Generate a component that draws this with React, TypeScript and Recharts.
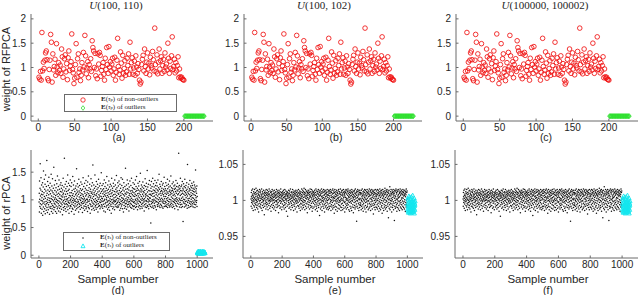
import { ScatterChart, Scatter, XAxis, YAxis } from 'recharts'

// E(tau_p) weights of RFPCA non-outliers, x100, samples 1..200 (same in a, b, c)
const RFPCA_NON_OUTLIERS = [
  80, 76, 92, 74, 172, 93, 111, 98, 115, 130, 134, 116, 77, 73, 96, 115, 168, 152, 70, 128,
  95, 102, 117, 84, 149, 101, 89, 110, 94, 105, 88, 138, 122, 80, 97, 118, 126, 91, 108, 75,
  120, 134, 94, 103, 112, 169, 96, 89, 67, 78, 106, 149, 80, 118, 128, 90, 97, 73, 84, 110,
  95, 131, 101, 166, 124, 87, 99, 112, 79, 106, 97, 118, 92, 155, 141, 134, 100, 129, 83, 97,
  77, 128, 107, 131, 125, 82, 94, 102, 110, 86, 74, 119, 96, 141, 106, 88, 143, 101, 112, 93,
  107, 119, 84, 97, 121, 74, 90, 115, 160, 102, 86, 95, 132, 109, 78, 125, 88, 98, 114, 84,
  91, 119, 104, 128, 86, 152, 97, 110, 120, 86, 99, 113, 84, 124, 101, 88, 108, 96, 74, 66,
  70, 106, 117, 125, 93, 138, 102, 88, 111, 130, 97, 109, 85, 121, 104, 99, 133, 116, 93, 181,
  106, 91, 126, 87, 111, 138, 97, 114, 122, 88, 104, 117, 92, 130, 101, 107, 95, 150, 119, 88,
  113, 98, 124, 163, 96, 102, 117, 89, 110, 93, 104, 122, 79, 97, 81, 78, 80, 76, 75, 74,
]
// E(tau_p) of outliers, samples 201..228
const RFPCA_OUTLIERS = [0, 0, 0, 0, 0, 0, 0, 0, 0, 0, 0, 0, 0, 0, 0, 0, 0, 0, 0, 0, 0, 0, 0, 0, 0, 0, 0, 0]

// rPCA weights in (d), x100, samples 1..1000
const RPCA_NON_OUTLIERS_D = [
  96, 112, 78, 134, 101, 88, 121, 165, 93, 107, 85, 118, 140, 99, 76, 110, 127, 91, 104, 83,
  115, 98, 131, 72, 109, 94, 123, 87, 152, 101, 79, 113, 96, 137, 106, 84, 119, 92, 128, 75,
  103, 145, 89, 116, 97, 81, 124, 108, 93, 171, 86, 112, 100, 77, 133, 95, 118, 104, 82, 126,
  91, 109, 141, 87, 99, 115, 74, 122, 103, 95, 130, 85, 111, 97, 118, 88, 146, 102, 79, 107,
  93, 125, 84, 116, 100, 138, 90, 76, 113, 105, 121, 87, 98, 159, 82, 110, 94, 127, 101, 86,
  117, 92, 104, 135, 79, 108, 97, 122, 89, 114, 101, 76, 129, 95, 110, 84, 143, 99, 118, 87,
  106, 93, 124, 80, 112, 98, 136, 90, 103, 119, 85, 109, 96, 127, 78, 115, 102, 88, 131, 94,
  107, 121, 83, 100, 114, 91, 126, 105, 73, 118, 96, 109, 139, 86, 112, 99, 81, 123, 94, 105,
  175, 88, 116, 101, 92, 128, 84, 110, 97, 120, 79, 106, 133, 93, 115, 100, 87, 124, 102, 91,
  111, 145, 82, 98, 117, 95, 130, 89, 104, 76, 119, 108, 94, 126, 85, 113, 99, 136, 90, 107,
  101, 88, 124, 96, 113, 79, 131, 104, 92, 117, 85, 108, 99, 142, 83, 111, 95, 127, 102, 90,
  119, 74, 106, 98, 134, 87, 115, 100, 93, 121, 81, 109, 97, 125, 89, 112, 103, 156, 84, 118,
  95, 107, 129, 91, 114, 100, 86, 123, 97, 110, 78, 137, 94, 116, 105, 88, 126, 92, 101, 113,
  83, 120, 99, 108, 132, 90, 104, 95, 117, 86, 111, 128, 93, 102, 77, 119, 97, 109, 140, 85,
  106, 94, 124, 100, 89, 115, 103, 81, 130, 96, 112, 88, 121, 99, 107, 92, 135, 84, 118, 101,
  109, 87, 126, 95, 113, 101, 79, 132, 98, 117, 90, 105, 143, 86, 111, 97, 122, 84, 108, 100,
  128, 93, 115, 76, 104, 119, 91, 107, 138, 88, 112, 99, 125, 82, 114, 96, 103, 131, 89, 110,
  163, 94, 118, 85, 106, 100, 127, 92, 113, 81, 121, 97, 109, 145, 87, 116, 102, 90, 124, 95,
  108, 83, 133, 99, 111, 92, 119, 86, 105, 128, 97, 114, 78, 122, 101, 93, 137, 88, 109, 104,
  116, 90, 125, 96, 107, 84, 130, 100, 112, 95, 120, 87, 106, 149, 91, 115, 98, 103, 126, 89,
  102, 118, 85, 111, 97, 129, 92, 106, 120, 80, 114, 99, 136, 88, 109, 101, 124, 93, 116, 78,
  107, 131, 95, 112, 87, 121, 100, 104, 142, 90, 117, 96, 108, 83, 127, 98, 113, 91, 119, 105,
  86, 134, 99, 110, 94, 123, 81, 115, 102, 89, 128, 97, 106, 118, 92, 111, 76, 125, 100, 139,
  88, 113, 95, 107, 121, 84, 117, 101, 93, 130, 98, 109, 87, 124, 104, 96, 115, 82, 136, 99,
  110, 91, 127, 97, 105, 119, 88, 114, 100, 144, 93, 108, 122, 86, 116, 95, 103, 131, 89, 112,
  98, 125, 87, 110, 102, 134, 91, 117, 95, 106, 81, 128, 100, 113, 93, 121, 85, 108, 140, 97,
  115, 89, 104, 126, 92, 111, 99, 137, 84, 118, 103, 95, 122, 78, 109, 101, 131, 90, 116, 96,
  107, 85, 124, 99, 112, 93, 157, 88, 119, 102, 110, 94, 127, 83, 114, 98, 105, 136, 91, 120,
  100, 87, 113, 96, 129, 104, 92, 118, 80, 108, 123, 97, 111, 89, 134, 101, 94, 116, 106, 86,
  126, 99, 112, 92, 139, 103, 85, 117, 97, 109, 122, 90, 114, 100, 131, 88, 107, 95, 120, 83,
  113, 97, 128, 89, 106, 119, 94, 110, 101, 136, 86, 115, 99, 124, 92, 108, 142, 88, 117, 103,
  96, 121, 82, 111, 100, 130, 93, 107, 118, 87, 125, 98, 112, 104, 90, 133, 97, 116, 84, 109,
  148, 95, 120, 101, 88, 114, 106, 127, 92, 118, 99, 85, 123, 103, 110, 94, 132, 89, 115, 100,
  107, 121, 96, 113, 80, 126, 102, 91, 117, 98, 138, 87, 109, 105, 124, 93, 111, 99, 130, 86,
  119, 97, 108, 153, 90, 114, 102, 123, 88, 106, 96, 128, 100, 84, 117, 92, 110, 135, 98, 104,
  91, 116, 103, 127, 88, 110, 58, 121, 97, 108, 133, 93, 115, 86, 124, 100, 111, 95, 139, 89,
  106, 118, 98, 129, 85, 112, 101, 123, 94, 107, 117, 90, 135, 99, 114, 87, 126, 104, 96, 120,
  109, 82, 131, 97, 113, 102, 125, 91, 118, 88, 107, 136, 95, 116, 100, 122, 93, 110, 146, 89,
  104, 119, 97, 128, 86, 112, 101, 124, 92, 115, 98, 108, 133, 90, 117, 103, 121, 87, 111, 96,
  127, 100, 114, 85, 130, 94, 109, 119, 98, 106, 141, 88, 116, 102, 124, 93, 112, 97, 120, 89,
  106, 131, 95, 117, 88, 110, 102, 126, 91, 114, 99, 137, 86, 120, 104, 112, 93, 128, 97, 108,
  123, 90, 115, 101, 134, 87, 118, 96, 109, 125, 92, 113, 100, 143, 89, 116, 105, 122, 94, 111,
  98, 129, 86, 117, 103, 120, 91, 108, 132, 97, 114, 88, 125, 101, 110, 95, 119, 84, 127, 99,
  107, 121, 93, 115, 102, 135, 90, 112, 97, 124, 104, 88, 118, 100, 130, 94, 109, 116, 82, 123,
  98, 111, 184, 92, 119, 103, 126, 87, 114, 100, 121, 95, 108, 139, 91, 117, 99, 124, 86, 110,
  103, 127, 92, 116, 99, 133, 88, 112, 105, 121, 61, 118, 96, 129, 101, 110, 94, 124, 87, 115,
  100, 137, 93, 108, 122, 97, 113, 89, 126, 104, 117, 91, 110, 131, 98, 119, 85, 107, 164, 95,
  114, 102, 123, 90, 111, 99, 128, 86, 116, 103, 120, 94, 109, 135, 97, 118, 88, 106, 125, 92,
  113, 101, 122, 96, 108, 130, 89, 117, 104, 126, 93, 111, 98, 121, 87, 115, 103, 132, 95, 109,
  119, 92, 127, 100, 114, 86, 123, 98, 108, 154, 91, 116, 104, 120, 95, 112, 99, 125, 88, 106,
]
// rPCA weights of outliers in (d), x100, samples 1001..1050
const RPCA_OUTLIERS_D = [
  5, 4, 6, 5, 3, 6, 4, 5, 7, 4, 5, 6, 3, 5, 4, 6, 5, 4, 7, 5, 4, 6, 5, 3, 5,
  6, 4, 5, 6, 4, 5, 3, 6, 5, 4, 7, 5, 4, 6, 5, 3, 5, 6, 4, 5, 6, 4, 5, 5, 4,
]

// rPCA weights in (e) and (f), stored as (w - 1) x 1000, samples 1..1000
const RPCA_NON_OUTLIERS_EF = [
  2, -8, 11, 5, -3, 14, 0, -11, 7, 3, -5, 16, 9, -2, -14, 6, 1, 12, -7, 4,
  -1, 10, -9, 15, 3, -4, 8, -13, 1, 11, -6, 5, 17, -3, 9, 0, -10, 13, 2, -7,
  6, -2, 14, -12, 4, 10, -5, 1, 8, -16, 12, 3, -8, 7, -1, 15, 5, -4, 11, -9,
  0, 13, -6, 3, 9, -11, 6, 2, 16, -3, 8, -14, 4, 12, -7, 1, 10, -2, 5, -10,
  14, 0, -5, 9, 3, -20, 7, 11, -8, 2, 13, -4, 6, -1, 10, -12, 4, 15, -6, 8,
  -3, 11, 1, -9, 7, 14, -5, 3, 10, -13, 5, -1, 12, 8, -7, 2, 16, -4, 9, 0,
  -11, 6, 13, -2, 4, -8, 11, 1, -15, 7, 3, 12, -6, 9, -1, 15, 5, -10, 2, 8,
  -4, 13, 0, -7, 10, 4, -12, 6, 1, 14, -3, 9, -9, 5, 11, -1, 7, -14, 3, 12,
  -6, 8, 0, 15, -2, 4, -10, 10, 6, -5, 13, 1, -8, 9, -3, 11, -17, 5, 2, 14,
  -7, 7, -1, 10, 4, -11, 12, 0, 8, -4, 16, -9, 3, 6, -2, 11, -13, 5, 9, 1,
  7, -5, 12, 2, -9, 10, -1, 14, 4, -7, 8, 0, -12, 11, 5, -3, 15, -6, 3, 9,
  -10, 6, 1, 13, -4, 8, -15, 2, 10, -1, 12, -8, 5, 7, -22, 11, 3, -6, 9, 0,
  14, -3, 6, -11, 4, 10, -5, 13, 1, -9, 8, 2, 16, -2, 7, -13, 5, 11, -4, 3,
  -7, 12, 0, 9, -10, 6, 15, -1, 4, -6, 11, 2, -14, 8, -3, 13, 5, -8, 10, 1,
  -5, 7, 12, -12, 3, 9, -2, 14, 0, -9, 6, 11, -4, 2, -16, 8, 13, -1, 5, -7,
  10, -3, 6, 15, -8, 2, 11, -11, 4, 9, -1, 13, -6, 7, 1, -14, 10, 3, -4, 12,
  -9, 5, 8, 0, 16, -5, 3, -12, 11, 6, -2, 14, -7, 9, 1, -10, 12, 4, -3, 17,
  -6, 8, 0, 11, -13, 5, 10, -1, 15, -8, 3, 7, -4, 13, -11, 6, 2, 12, -5, 9,
  -17, 4, 11, -2, 7, 14, -9, 1, 10, -6, 13, 3, -3, 8, -12, 11, 5, 0, 16, -7,
  6, -1, 12, -10, 4, 9, -4, 15, 2, -8, 10, -15, 7, 13, -2, 5, -11, 11, 1, 8,
  -4, 12, 3, -9, 10, 6, -1, 14, -6, 8, 0, -13, 11, 4, -3, 16, -8, 7, 2, -11,
  13, -5, 9, 1, -15, 12, 5, -2, 10, -7, 15, 3, -10, 8, 0, 13, -4, 6, -21, 11,
  2, -6, 14, 7, -12, 9, 1, -3, 12, -9, 5, 16, -1, 10, -14, 6, 3, -5, 13, 0,
  -8, 11, 4, -2, 15, -11, 7, 1, -6, 12, -16, 8, 3, 14, -4, 10, -9, 5, -1, 13,
  -7, 9, 2, -12, 11, 6, -3, 15, 0, -10, 8, 4, -5, 12, -13, 7, 1, 14, -8, 10,
  3, -11, 13, 6, -4, 10, -8, 15, 1, -2, 12, -14, 7, 4, -6, 11, 0, -9, 14, 5,
  -3, 9, -12, 16, 2, -7, 10, 4, -1, 13, -10, 6, -18, 11, 3, -5, 15, 0, -8, 9,
  5, -13, 12, -2, 8, 1, -9, 14, 6, -4, 11, -15, 3, 10, -1, 7, -11, 13, 2, -6,
  15, 4, -3, 9, -12, 12, 0, -7, 10, 5, -2, 16, -9, 8, 1, -14, 11, 3, -5, 13,
  -10, 7, 0, 14, -4, 9, -13, 6, 2, 11, -7, 15, -1, 4, -11, 12, 8, -3, 10, -16,
  6, -2, 13, -9, 4, 11, -5, 15, 1, -12, 9, 3, -7, 14, 0, -4, 12, -10, 7, 2,
  16, -6, 10, -1, 5, -13, 13, 4, -3, 8, -15, 11, 1, -8, 14, 6, -2, 10, -11, 3,
  12, -4, 7, -14, 15, 0, -9, 11, 5, -1, 9, -6, 13, 2, -17, 8, 4, -10, 12, -3,
  6, 14, -7, 1, 10, -12, 5, 16, -2, 9, -9, 3, 11, -5, 7, -29, 13, 0, -8, 12,
  4, -1, 15, -11, 6, 9, -4, 2, 13, -14, 8, -6, 11, 1, -10, 14, 3, -3, 10, -7,
  11, -5, 8, 2, -13, 14, 0, -8, 10, 5, -2, 16, -11, 7, 3, -6, 12, -15, 9, 1,
  -4, 13, 6, -9, 11, -1, 15, 4, -12, 8, 2, -7, 14, -3, 10, -16, 6, 1, 12, -10,
  7, -2, 15, 3, -8, 11, -5, 9, 0, -13, 13, 5, -1, 10, -11, 8, 16, -4, 6, -9,
  2, 12, -6, 14, -14, 7, 3, -2, 11, -8, 9, 1, 15, -5, 4, -12, 13, -1, 10, 6,
  -7, 12, -19, 8, 3, -4, 14, -10, 11, 0, -6, 9, 5, -13, 15, 2, -3, 10, -9, 7,
  -1, 13, 5, -10, 9, 2, -6, 15, -12, 8, 0, 11, -4, 14, 3, -8, 10, -15, 6, 12,
  -2, 7, -11, 16, 1, -5, 9, 4, -13, 13, -3, 11, 6, -9, 14, 0, -7, 10, -18, 8,
  3, -4, 15, -11, 7, 12, -1, 5, -14, 10, 2, -6, 13, -9, 8, 1, 17, -3, 11, -12,
  4, 9, -7, 14, 0, -10, 12, 6, -2, 15, -15, 8, 3, -5, 11, -8, 13, 1, -24, 10,
  5, -3, 14, -11, 7, 2, -6, 19, -13, 9, 0, 12, -4, 6, -9, 15, 3, -1, 10, -16,
  8, -5, 13, 1, -10, 11, 4, -7, 15, -2, 9, -13, 6, 12, -4, 10, -28, 3, 14, -8,
  7, 0, -11, 13, 5, -3, 16, -9, 2, 11, -6, 9, -15, 14, 1, -4, 12, -10, 6, 3,
  -1, 15, -12, 8, 4, -7, 13, -2, 10, -14, 5, 11, -5, 16, 0, -9, 7, 12, -3, 9,
  -11, 14, 2, -6, 10, 4, -13, 12, -1, 8, -8, 15, 3, -4, 11, -10, 6, 13, -2, 9,
  -12, 7, 1, 14, -6, 10, -15, 5, 12, -3, 8, -9, 16, 0, -5, 11, -7, 13, 2, -10,
]
// rPCA weights of outliers in (e) and (f), (w - 1) x 1000, samples 1001..1050
const RPCA_OUTLIERS_EF = [
  -5, -12, 3, -15, -8, 1, -17, -10, -3, 6, -14, -7, -1, -16, -9, 4, -12, -4, -18, -6,
  2, -11, -15, -2, -8, 5, -13, -6, -17, 0, -10, -3, -14, 7, -9, -16, -5, -12, 1, -7,
  -15, -2, -11, 3, -18, -8, -4, -13, -6, -1,
]

const TOP_X_TICKS = [0, 50, 100, 150, 200]
const BOTTOM_X_TICKS = [0, 200, 400, 600, 800, 1000]
const RFPCA_Y_TICKS = [0, 0.5, 1, 1.5, 2]
const RPCA_Y_TICKS_D = [0, 0.5, 1, 1.5]
const RPCA_Y_TICKS_EF = [0.95, 1, 1.05]
const TITLE_ARGS = ['100, 110', '100, 102', '100000, 100002']
const CAPTIONS = ['(a)', '(b)', '(c)', '(d)', '(e)', '(f)']

const SANS = '"Liberation Sans", Arial, Helvetica, sans-serif'
const SERIF = '"Liberation Serif", "DejaVu Serif", serif'
const INK = '#262626'
const FRAME = '#6b6b6b'
const TICK_LEN = 2.5

const pts = (vals: number[], first: number, scale: number, base = 0) =>
  vals.map((v, i) => ({ x: first + i, y: base + v / scale }))

const RedCircle = (p: any) => (
  <circle cx={p.cx} cy={p.cy} r={2.3} fill="none" stroke="#f01010" strokeWidth={0.85} />
)
const GreenDiamond = (p: any) => (
  <path d={`M${p.cx},${p.cy - 2.4}L${p.cx + 1.9},${p.cy}L${p.cx},${p.cy + 2.4}L${p.cx - 1.9},${p.cy}Z`}
    fill="none" stroke="#2ee02e" strokeWidth={0.9} />
)
const BlackDot = (p: any) => <circle cx={p.cx} cy={p.cy} r={0.75} fill="#111" />
const CyanTri = (p: any) => (
  <path d={`M${p.cx},${p.cy - 2.2}L${p.cx + 2},${p.cy + 1.6}L${p.cx - 2},${p.cy + 1.6}Z`}
    fill="none" stroke="#14e6ee" strokeWidth={0.9} />
)

// free text drawn in page coordinates (every chart svg spans the full page)
const Txt = ({ tx, ty, rot, size = 11, family = SANS, children }: any) => (
  <text x={tx} y={ty} textAnchor="middle" fontSize={size} fontFamily={family} fill={INK}
    transform={rot ? `rotate(-90, ${tx}, ${ty})` : undefined}>{children}</text>
)

type Box = { l: number; t: number; r: number; b: number }

function Panel({ box, xDomain, xTicks, yDomain, yTicks, inliers, outliers, inShape, outShape,
  title, caption, capX, showSample, yLabel }: any) {
  const b: Box = box
  const font = { fill: INK, fontSize: 10, fontFamily: SANS }
  // matlab style: short tick marks pointing into the box, labels outside
  const bottomTick = (p: any) => (
    <g>
      <line x1={p.x} x2={p.x} y1={b.b} y2={b.b - TICK_LEN} stroke={FRAME} />
      <text x={p.x} y={p.y} dy="0.71em" textAnchor="middle" {...font}>{p.payload.value}</text>
    </g>
  )
  const leftTick = (p: any) => (
    <g>
      <line x1={b.l} x2={b.l + TICK_LEN} y1={p.y} y2={p.y} stroke={FRAME} />
      <text x={p.x} y={p.y} dy="0.355em" textAnchor="end" {...font}>{p.payload.value}</text>
    </g>
  )
  const topTick = (p: any) => <line x1={p.x} x2={p.x} y1={b.t} y2={b.t + TICK_LEN} stroke={FRAME} />
  const rightTick = (p: any) => <line x1={b.r} x2={b.r - TICK_LEN} y1={p.y} y2={p.y} stroke={FRAME} />
  return (
    <div style={{ position: 'absolute', left: 0, top: 0 }}>
      <ScatterChart width={640} height={295}
        margin={{ top: b.t, right: 640 - b.r, bottom: 295 - b.b - 30, left: b.l - 30 }}>
        <XAxis xAxisId="b" type="number" dataKey="x" domain={xDomain} ticks={xTicks} interval={0}
          allowDataOverflow height={30} tickLine={false} tickSize={0} tickMargin={3}
          axisLine={{ stroke: FRAME }} tick={bottomTick}
          label={
            <g>
              {title && (
                <Txt tx={title.x} ty={9} size={11} family={SERIF}>
                  <tspan fontStyle="italic">U</tspan>({title.args})
                </Txt>
              )}
              {showSample && <Txt tx={capX} ty={283} size={11.5}>Sample number</Txt>}
              <Txt tx={capX} ty={showSample ? 294 : 141} size={10.5}>{caption}</Txt>
            </g>
          } />
        <XAxis xAxisId="t" orientation="top" type="number" domain={xDomain} ticks={xTicks} interval={0}
          height={0} tickLine={false} tickSize={0} tick={topTick} axisLine={{ stroke: FRAME }} />
        <YAxis yAxisId="l" type="number" dataKey="y" domain={yDomain} ticks={yTicks} interval={0}
          allowDataOverflow width={30} tickLine={false} tickSize={0} tickMargin={5}
          axisLine={{ stroke: FRAME }} tick={leftTick}
          label={yLabel ? (
            <g><Txt tx={10} ty={yLabel.y} rot size={11}>{yLabel.text}</Txt></g>
          ) : undefined} />
        <YAxis yAxisId="r" orientation="right" type="number" domain={yDomain} ticks={yTicks} interval={0}
          width={0} tickLine={false} tickSize={0} tick={rightTick} axisLine={{ stroke: FRAME }} />
        <Scatter xAxisId="b" yAxisId="l" data={inliers} shape={inShape} isAnimationActive={false} />
        <Scatter xAxisId="b" yAxisId="l" data={outliers} shape={outShape} isAnimationActive={false} />
      </ScatterChart>
    </div>
  )
}

const LegendBox = ({ left, top, width, height, sub, first, second }: any) => {
  const row = (icon: any, rest: string) => (
    <div style={{ display: 'flex', alignItems: 'center', height: 8 }}>
      <svg width={36} height={8} style={{ flex: 'none' }}>{icon}</svg>
      <span style={{ whiteSpace: 'nowrap' }}>
        <b>E</b>(<i>τ</i><span style={{ fontSize: 4.5 }}>{sub}</span>) {rest}
      </span>
    </div>
  )
  return (
    <div style={{
      position: 'absolute', left, top, width, height, boxSizing: 'border-box',
      border: `1px solid ${FRAME}`, background: '#fff', fontFamily: SERIF, fontSize: 7,
      lineHeight: '8px', color: INK, paddingTop: 0.5,
    }}>
      {row(first, 'of non-outliers')}
      {row(second, 'of outliers')}
    </div>
  )
}

export default function App() {
  const top = (l: number, r: number): Box => ({ l, t: 14, r, b: 121 })
  const bot = (l: number, r: number): Box => ({ l, t: 150, r, b: 258 })
  const rfIn = pts(RFPCA_NON_OUTLIERS, 1, 100)
  const rfOut = pts(RFPCA_OUTLIERS, 201, 100)
  const dIn = pts(RPCA_NON_OUTLIERS_D, 1, 100)
  const dOut = pts(RPCA_OUTLIERS_D, 1001, 100)
  const efIn = pts(RPCA_NON_OUTLIERS_EF, 1, 1000, 1)
  const efOut = pts(RPCA_OUTLIERS_EF, 1001, 1000, 1)
  const topCommon = {
    xDomain: [-10, 240], xTicks: TOP_X_TICKS, yDomain: [-0.1, 2.1], yTicks: RFPCA_Y_TICKS,
    inliers: rfIn, outliers: rfOut, inShape: RedCircle, outShape: GreenDiamond,
  }
  const botCommon = {
    xDomain: [-50, 1100], xTicks: BOTTOM_X_TICKS, inShape: BlackDot, outShape: CyanTri, showSample: true,
  }
  return (
    <div style={{ position: 'absolute', left: 0, top: 0, width: 640, height: 295, background: '#fff' }}>
      <Panel box={top(31, 213)} {...topCommon} title={{ x: 116, args: TITLE_ARGS[0] }}
        caption={CAPTIONS[0]} capX={119} yLabel={{ y: 69, text: 'weight of RFPCA' }} />
      <Panel box={top(244, 422)} {...topCommon} title={{ x: 324, args: TITLE_ARGS[1] }}
        caption={CAPTIONS[1]} capX={336} />
      <Panel box={top(456, 638)} {...topCommon} title={{ x: 545, args: TITLE_ARGS[2] }}
        caption={CAPTIONS[2]} capX={546} />
      <Panel box={bot(31, 213)} {...botCommon} yDomain={[-0.05, 1.9]} yTicks={RPCA_Y_TICKS_D}
        inliers={dIn} outliers={dOut} caption={CAPTIONS[3]} capX={118}
        yLabel={{ y: 213, text: 'weight of rPCA' }} />
      <Panel box={bot(243, 423)} {...botCommon} yDomain={[0.92, 1.07]} yTicks={RPCA_Y_TICKS_EF}
        inliers={efIn} outliers={efOut} caption={CAPTIONS[4]} capX={335} />
      <Panel box={bot(455, 638)} {...botCommon} yDomain={[0.92, 1.07]} yTicks={RPCA_Y_TICKS_EF}
        inliers={efIn} outliers={efOut} caption={CAPTIONS[5]} capX={548} />
      <LegendBox left={64} top={94} width={113} height={18} sub="p"
        first={<circle cx={18} cy={4} r={2.2} fill="none" stroke="#f01010" strokeWidth={0.8} />}
        second={<path d="M18,1.7L19.8,4L18,6.3L16.2,4Z" fill="none" stroke="#2ee02e" strokeWidth={0.8} />} />
      <LegendBox left={63} top={232} width={107} height={19} sub="s"
        first={<circle cx={19} cy={4} r={0.75} fill="#111" />}
        second={<path d="M19,1.9L21,5.7L17,5.7Z" fill="none" stroke="#14e6ee" strokeWidth={0.9} />} />
    </div>
  )
}
